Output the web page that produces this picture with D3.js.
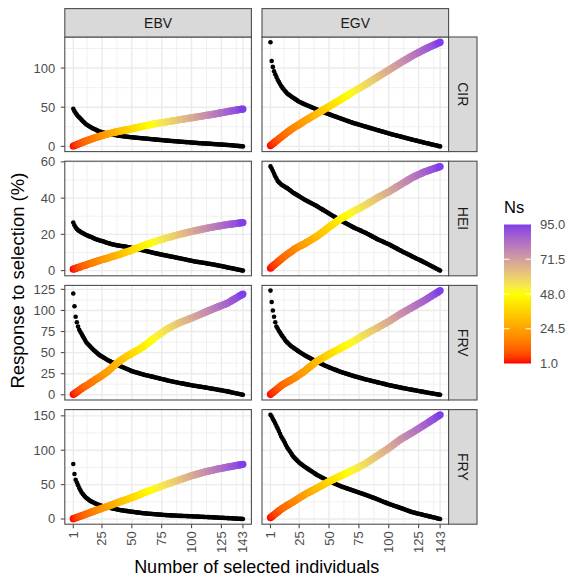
<!DOCTYPE html>
<html>
<head>
<meta charset="utf-8">
<script src="https://cdn.jsdelivr.net/npm/d3@7"></script>
<style>
body { margin: 0; background: #fff; }
text { font-family: "Liberation Sans", Arial, Helvetica, sans-serif; }
</style>
</head>
<body>
<svg id="chart" width="571" height="580"></svg>
<script>
var METHODS = ['EBV', 'EGV'];
var TRAITS = ['CIR', 'HEI', 'FRV', 'FRY'];
var X_TICKS = [1, 25, 50, 75, 100, 125, 143];
var X_MINOR = [12.5, 37.5, 62.5, 87.5, 112.5, 137.5];
var Y_TICKS_CIR = [0, 50, 100];
var Y_TICKS_HEI = [0, 20, 40, 60];
var Y_TICKS_FRV = [0, 25, 50, 75, 100, 125];
var Y_TICKS_FRY = [0, 50, 100, 150];
var NS_TICKS = [1.0, 24.5, 48.0, 71.5, 95.0];

// Ns of each selected set, 1..143
var NS = [1,2,3,4,5,6,7,8,9,10,
  11,12,12,13,14,14,15,16,16,17,
  18,18,19,20,20,21,22,22,23,24,
  24,25,26,26,27,28,28,29,30,30,
  31,32,32,33,34,34,35,36,36,37,
  38,38,39,40,40,41,42,42,43,44,
  44,45,46,46,47,47,48,48,49,50,
  50,51,51,52,53,53,54,54,55,56,
  56,57,57,58,59,59,60,60,61,62,
  62,63,63,64,65,65,66,66,67,68,
  68,69,69,70,71,71,72,72,73,74,
  74,75,75,76,77,77,78,78,79,80,
  80,81,81,82,83,83,84,84,85,86,
  86,87,87,88,89,89,90,90,91,92,
  93,94,95];

// coloured series (increasing) and black series (decreasing)
var CIR_EBV_COL = [0.5,1.1,1.7,2.3,2.9,3.6,4.2,4.8,5.4,6.0,
  6.6,7.1,7.7,8.2,8.8,9.3,9.9,10.4,11.0,11.5,
  12.0,12.4,12.9,13.3,13.8,14.2,14.7,15.1,15.6,16.0,
  16.4,16.7,17.1,17.4,17.8,18.1,18.5,18.8,19.2,19.5,
  19.8,20.1,20.4,20.7,21.0,21.3,21.6,21.9,22.2,22.5,
  22.9,23.2,23.6,23.9,24.3,24.6,25.0,25.3,25.7,26.0,
  26.3,26.6,26.9,27.2,27.5,27.8,28.1,28.4,28.7,29.0,
  29.3,29.5,29.8,30.0,30.3,30.5,30.8,31.0,31.3,31.5,
  31.8,32.0,32.3,32.5,32.8,33.0,33.3,33.5,33.8,34.0,
  34.3,34.5,34.8,35.0,35.3,35.5,35.8,36.0,36.3,36.5,
  36.8,37.0,37.3,37.5,37.8,38.0,38.3,38.5,38.8,39.0,
  39.3,39.5,39.8,40.0,40.3,40.5,40.8,41.0,41.3,41.5,
  41.8,42.1,42.4,42.7,43.0,43.3,43.6,43.9,44.2,44.5,
  44.7,45.0,45.2,45.5,45.7,46.0,46.2,46.5,46.7,47.0,
  47.2,47.5,47.7];
var CIR_EBV_BLK = [48,45,42.5,40.5,38.5,37,35.5,33.8,32,30.7,
  29.3,28,27,26,25,24.2,23.3,22.5,21.8,21.1,
  20.4,19.7,19,18.6,18.1,17.7,17.3,16.8,16.4,16,
  15.7,15.5,15.2,15,14.7,14.5,14.2,14,13.7,13.5,
  13.3,13.1,12.9,12.7,12.5,12.3,12.1,11.9,11.7,11.6,
  11.5,11.3,11.2,11,10.9,10.7,10.6,10.4,10.3,10.1,
  10,9.9,9.7,9.6,9.4,9.3,9.1,9,8.8,8.7,
  8.6,8.4,8.3,8.1,8,7.8,7.7,7.5,7.4,7.3,
  7.2,7.1,6.9,6.8,6.7,6.6,6.5,6.3,6.2,6.1,
  6,5.9,5.8,5.6,5.5,5.4,5.3,5.2,5,4.9,
  4.8,4.7,4.6,4.5,4.3,4.2,4.1,4,3.9,3.8,
  3.7,3.6,3.6,3.5,3.4,3.3,3.2,3,2.9,2.8,
  2.7,2.6,2.5,2.4,2.3,2.2,2.1,2,1.9,1.8,
  1.7,1.5,1.4,1.3,1.1,1,0.8,0.7,0.6,0.4,
  0.3,0.1,0];
var CIR_EGV_COL = [1,2.3,3.5,4.8,6,7.2,8.4,9.6,10.8,12,
  13.2,14.4,15.6,16.8,18,19.1,20.2,21.3,22.4,23.5,
  24.4,25.3,26.2,27.1,28,29,30,31,32,33,
  33.9,34.8,35.7,36.6,37.5,38.4,39.3,40.2,41.1,42,
  42.9,43.8,44.7,45.6,46.5,47.4,48.3,49.2,50.1,51,
  51.9,52.8,53.7,54.6,55.5,56.4,57.3,58.2,59.1,60,
  61,61.9,62.9,63.8,64.8,65.7,66.7,67.6,68.6,69.5,
  70.4,71.3,72.2,73.1,74,74.9,75.8,76.7,77.6,78.5,
  79.5,80.4,81.4,82.3,83.3,84.2,85.2,86.1,87.1,88,
  89,89.9,90.9,91.8,92.8,93.7,94.7,95.6,96.6,97.5,
  98.5,99.4,100.4,101.3,102.3,103.2,104.2,105.1,106.1,107,
  107.9,108.8,109.7,110.6,111.5,112.4,113.3,114.2,115.1,116,
  116.8,117.6,118.4,119.2,120,120.8,121.6,122.4,123.2,124,
  124.7,125.4,126.1,126.8,127.5,128.2,128.8,129.5,130.2,130.9,
  131.6,132.3,133];
var CIR_EGV_BLK = [133,109,101.5,96,92,88.5,85,82.3,79.6,77,
  75,73,71.1,69.3,67.5,66.4,65.3,64.2,63.1,62,
  61,60,59,58,57,56.3,55.6,54.9,54.2,53.5,
  52.9,52.2,51.6,50.9,50.3,49.6,49,48.3,47.7,47,
  46.4,45.8,45.2,44.6,44,43.4,42.8,42.2,41.6,41,
  40.5,39.9,39.4,38.8,38.3,37.7,37.2,36.6,36.1,35.5,
  35,34.4,33.9,33.3,32.8,32.2,31.7,31.1,30.6,30,
  29.6,29.1,28.7,28.2,27.8,27.3,26.9,26.4,26,25.5,
  25.1,24.6,24.2,23.7,23.3,22.8,22.4,21.9,21.5,21,
  20.6,20.1,19.7,19.2,18.8,18.3,17.9,17.4,17,16.5,
  16.1,15.7,15.3,14.9,14.5,14.1,13.7,13.3,12.9,12.5,
  12.1,11.7,11.3,10.9,10.5,10.1,9.7,9.3,8.9,8.5,
  8.1,7.7,7.4,7,6.6,6.3,5.9,5.5,5.1,4.7,
  4.3,4,3.6,3.3,2.9,2.5,2.2,1.8,1.4,1.1,
  0.7,0.4,0];
var HEI_EBV_COL = [0.8,1,1.2,1.5,1.7,1.9,2.1,2.4,2.6,2.8,
  3,3.2,3.5,3.7,3.9,4.1,4.3,4.6,4.8,5,
  5.2,5.4,5.6,5.8,6,6.2,6.4,6.6,6.8,7,
  7.2,7.4,7.6,7.8,8,8.2,8.4,8.6,8.8,9,
  9.2,9.5,9.7,9.9,10.2,10.4,10.6,10.8,11.1,11.3,
  11.6,11.8,12.1,12.3,12.6,12.8,13.1,13.3,13.6,13.8,
  14,14.3,14.5,14.8,15,15.2,15.5,15.7,16,16.2,
  16.4,16.6,16.8,17,17.2,17.4,17.6,17.8,18,18.2,
  18.4,18.6,18.7,18.9,19.1,19.3,19.5,19.6,19.8,20,
  20.2,20.3,20.5,20.6,20.8,21,21.1,21.3,21.4,21.6,
  21.7,21.9,22,22.2,22.3,22.4,22.6,22.7,22.9,23,
  23.1,23.3,23.4,23.5,23.7,23.8,23.9,24,24.2,24.3,
  24.4,24.5,24.6,24.7,24.9,25,25.1,25.2,25.3,25.4,
  25.5,25.6,25.7,25.7,25.8,25.9,26,26.1,26.2,26.2,
  26.3,26.4,26.5];
var HEI_EBV_BLK = [26.5,25,23.8,23,22.3,21.9,21.4,21,20.6,20.3,
  19.9,19.6,19.3,19,18.8,18.5,18.2,17.9,17.6,17.3,
  17.1,16.9,16.7,16.5,16.3,16.1,15.9,15.6,15.4,15.2,
  15,14.8,14.6,14.5,14.3,14.2,14,13.9,13.8,13.7,
  13.6,13.5,13.4,13.3,13.2,13,12.9,12.8,12.7,12.5,
  12.4,12.2,12.1,12,11.8,11.7,11.5,11.4,11.2,11.1,
  10.9,10.8,10.6,10.5,10.3,10.2,10,9.8,9.7,9.5,
  9.4,9.2,9.1,8.9,8.8,8.7,8.5,8.4,8.3,8.1,
  8,7.9,7.7,7.6,7.5,7.3,7.2,7.1,6.9,6.8,
  6.7,6.5,6.4,6.3,6.1,6,5.8,5.7,5.6,5.4,
  5.3,5.1,5,4.9,4.8,4.7,4.6,4.5,4.4,4.3,
  4.2,4.1,3.9,3.8,3.7,3.6,3.5,3.4,3.3,3.1,
  3,2.9,2.7,2.6,2.5,2.3,2.2,2.1,1.9,1.8,
  1.6,1.5,1.4,1.2,1.1,1,0.8,0.7,0.5,0.4,
  0.3,0.1,0];
var HEI_EGV_COL = [1.3,2,2.5,3.1,3.6,4.2,4.8,5.3,5.9,6.4,
  7,7.5,8,8.4,8.9,9.4,9.9,10.3,10.8,11.3,
  11.8,12.3,12.6,13,13.3,13.6,14,14.3,14.6,15,
  15.4,15.8,16.2,16.6,17,17.4,17.8,18.2,18.6,19,
  19.5,20,20.5,21,21.5,22,22.5,23,23.5,24,
  24.5,25,25.4,25.9,26.4,26.9,27.4,27.8,28.3,28.7,
  29.1,29.5,29.8,30.2,30.6,31,31.3,31.7,32.1,32.5,
  32.9,33.2,33.6,33.9,34.3,34.6,35,35.3,35.7,36,
  36.4,36.8,37.2,37.6,38,38.4,38.8,39.2,39.6,40,
  40.4,40.7,41.1,41.4,41.8,42.1,42.5,42.8,43.2,43.5,
  43.9,44.3,44.7,45.1,45.5,45.9,46.3,46.7,47.1,47.5,
  47.9,48.3,48.7,49.1,49.5,49.9,50.3,50.7,51.1,51.5,
  51.8,52.1,52.4,52.7,53,53.3,53.6,53.9,54.2,54.5,
  54.7,54.9,55.2,55.4,55.6,55.8,56.1,56.3,56.5,56.7,
  57,57.2,57.4];
var HEI_EGV_BLK = [57.5,56.3,55,53.5,52,50.8,49.5,48.8,48.2,47.5,
  47.1,46.7,46.3,45.9,45.5,45,44.5,44,43.5,43,
  42.6,42.2,41.8,41.4,41,40.6,40.2,39.8,39.4,39,
  38.7,38.3,38,37.6,37.3,36.9,36.6,36.2,35.9,35.5,
  35.1,34.7,34.3,33.9,33.5,33.1,32.7,32.3,31.9,31.5,
  31.1,30.7,30.3,29.9,29.5,29.1,28.7,28.3,27.9,27.5,
  27.2,26.8,26.5,26.1,25.8,25.4,25.1,24.7,24.4,24,
  23.7,23.4,23.1,22.8,22.5,22.2,21.9,21.6,21.3,21,
  20.7,20.3,20,19.6,19.3,18.9,18.6,18.2,17.9,17.5,
  17.2,16.9,16.6,16.3,16,15.7,15.4,15.1,14.8,14.5,
  14.2,13.8,13.5,13.1,12.8,12.4,12.1,11.7,11.4,11,
  10.7,10.3,10,9.7,9.4,9,8.7,8.4,8,7.7,
  7.4,7.1,6.7,6.4,6.1,5.8,5.5,5.1,4.8,4.5,
  4.2,3.8,3.5,3.1,2.8,2.4,2.1,1.7,1.4,1,
  0.7,0.3,0];
var FRV_EBV_COL = [0.5,1.5,2.5,3.5,4.5,5.5,6.5,7.5,8.4,9.3,
  10.2,11,11.9,12.8,13.8,14.7,15.6,16.6,17.5,18.5,
  19.3,20.2,21,22,23,24,25,26,27,28,
  29.3,30.5,31.8,33.1,34.3,35.6,36.9,38,39.1,40.1,
  41.1,42.1,43.1,44.1,45,45.9,46.7,47.5,48.3,49.1,
  49.9,50.7,51.5,52.3,53.1,54,54.9,55.8,56.7,57.6,
  58.7,59.8,60.9,62,63.1,64.2,65.3,66.3,67.4,68.5,
  69.5,70.5,71.5,72.5,73.5,74.5,75.5,76.5,77.5,78.5,
  79.2,79.9,80.6,81.3,82,82.7,83.4,84.1,84.8,85.5,
  86.1,86.6,87.2,87.7,88.3,88.8,89.4,89.9,90.5,91,
  91.6,92.2,92.8,93.4,94,94.6,95.2,95.8,96.4,97,
  97.6,98.2,98.8,99.4,100,100.6,101.2,101.8,102.4,103,
  103.6,104.1,104.7,105.2,105.8,106.3,106.9,107.4,108,108.5,
  109.3,110.2,111,111.9,112.7,113.6,114.4,115.3,116.1,117,
  117.8,118.7,119.5];
var FRV_EBV_BLK = [120,105,92.5,86,81,77,74.5,72,69.5,67,
  64.5,62,60.5,59,57.5,56,54.5,53,51.8,50.6,
  49.4,48.2,47,46.1,45.3,44.4,43.6,42.7,41.9,41,
  40.3,39.6,38.9,38.2,37.6,36.9,36.2,35.5,34.9,34.2,
  33.6,33,32.4,31.8,31.1,30.5,29.9,29.3,28.6,28,
  27.6,27.2,26.8,26.4,26,25.5,25.1,24.7,24.3,23.9,
  23.5,23.2,22.8,22.5,22.2,21.8,21.5,21.2,20.8,20.5,
  20.2,19.8,19.5,19.1,18.8,18.4,18.1,17.7,17.4,17,
  16.7,16.4,16.1,15.8,15.5,15.2,14.9,14.6,14.3,14,
  13.7,13.5,13.2,12.9,12.6,12.4,12.1,11.8,11.6,11.3,
  11.1,10.8,10.6,10.4,10.2,9.9,9.7,9.5,9.2,9,
  8.8,8.5,8.3,8,7.8,7.5,7.3,7,6.8,6.5,
  6.3,6,5.8,5.5,5.3,5,4.8,4.5,4.3,4,
  3.7,3.4,3.1,2.8,2.5,2.2,1.8,1.5,1.2,0.9,
  0.6,0.3,0];
var FRV_EGV_COL = [0.5,1.7,2.8,4,5.1,6.3,7.4,8.6,9.7,10.9,
  12,12.8,13.6,14.3,15.1,15.9,16.7,17.4,18.2,19,
  19.9,20.9,21.8,22.8,23.7,24.6,25.6,26.5,27.6,28.8,
  29.9,31,32.1,33.3,34.4,35.5,36.6,37.8,38.9,40,
  40.8,41.6,42.4,43.2,44,44.8,45.6,46.4,47.2,48,
  48.8,49.5,50.3,51,51.8,52.5,53.3,54,54.8,55.5,
  56.3,57,57.8,58.5,59.3,60,60.8,61.5,62.3,63,
  63.9,64.7,65.6,66.4,67.3,68.1,69,69.8,70.7,71.5,
  72.3,73,73.8,74.6,75.3,76.1,76.8,77.6,78.3,79,
  79.8,80.6,81.4,82.2,83,83.8,84.6,85.4,86.2,87,
  87.9,88.8,89.7,90.6,91.5,92.4,93.3,94.2,95.1,96,
  96.8,97.6,98.4,99.2,100,100.8,101.6,102.4,103.2,104,
  104.8,105.6,106.4,107.2,108,108.8,109.6,110.4,111.2,112,
  112.9,113.8,114.7,115.5,116.4,117.3,118.2,119,119.9,120.8,
  121.7,122.6,123.5];
var FRV_EGV_BLK = [123.5,110,100,92.5,86,81,78.5,76,73.8,71.5,
  69.5,67.5,65.5,63.5,62.1,60.8,59.4,58,57,56,
  55,54,53,52,51,50.1,49.2,48.3,47.4,46.5,
  45.8,45,44.3,43.5,42.8,42,41.3,40.5,39.8,39,
  38.4,37.7,37.1,36.4,35.8,35.1,34.5,33.8,33.2,32.5,
  32,31.4,30.9,30.3,29.8,29.2,28.7,28.1,27.6,27,
  26.6,26.1,25.7,25.2,24.8,24.3,23.9,23.4,23,22.5,
  22.1,21.7,21.3,20.9,20.5,20.1,19.7,19.3,18.9,18.5,
  18.2,17.8,17.5,17.1,16.8,16.4,16.1,15.7,15.4,15,
  14.7,14.3,14,13.6,13.3,12.9,12.6,12.2,11.9,11.5,
  11.2,10.9,10.6,10.3,10,9.7,9.4,9.1,8.8,8.5,
  8.2,7.9,7.7,7.4,7.1,6.9,6.6,6.3,6.1,5.8,
  5.5,5.3,5,4.8,4.5,4.2,4,3.7,3.5,3.2,
  3,2.7,2.5,2.2,2,1.7,1.5,1.2,1,0.7,
  0.5,0.2,0];
var FRY_EBV_COL = [0.5,1.1,1.7,2.3,2.9,3.6,4.2,4.8,5.4,6,
  6.7,7.3,8,8.6,9.3,9.9,10.6,11.2,11.9,12.5,
  13.1,13.7,14.3,14.9,15.5,16.1,16.7,17.3,17.9,18.5,
  19.2,19.8,20.5,21.1,21.8,22.4,23.1,23.7,24.4,25,
  25.6,26.2,26.8,27.4,28,28.6,29.2,29.8,30.4,31,
  31.7,32.4,33.1,33.8,34.5,35.2,35.9,36.6,37.3,38,
  38.7,39.3,40,40.6,41.3,41.9,42.6,43.2,43.9,44.5,
  45.2,45.8,46.5,47.1,47.8,48.4,49.1,49.7,50.4,51,
  51.6,52.2,52.8,53.4,54,54.6,55.2,55.8,56.4,57,
  57.6,58.2,58.8,59.4,60,60.6,61.2,61.8,62.4,63,
  63.5,64,64.5,65,65.5,66,66.5,67,67.5,68,
  68.4,68.8,69.2,69.6,70,70.4,70.8,71.2,71.6,72,
  72.4,72.7,73.1,73.4,73.8,74.1,74.5,74.8,75.2,75.5,
  75.8,76.1,76.4,76.7,77,77.4,77.7,78,78.3,78.6,
  78.9,79.2,79.5];
var FRY_EBV_BLK = [80,65.5,57,53,49,45,41.7,38.5,36.2,34,
  32.2,30.5,29.2,27.8,26.5,25.6,24.7,23.8,22.9,22,
  21.4,20.8,20.2,19.6,19,18.6,18.2,17.8,17.4,17,
  16.6,16.2,15.8,15.4,15,14.6,14.2,13.8,13.4,13,
  12.8,12.5,12.3,12,11.8,11.5,11.3,11,10.8,10.5,
  10.3,10.1,9.8,9.6,9.4,9.2,9,8.7,8.5,8.3,
  8.2,8,7.9,7.7,7.6,7.4,7.3,7.1,7,6.8,
  6.7,6.5,6.4,6.3,6.2,6,5.9,5.8,5.6,5.5,
  5.4,5.3,5.2,5.1,5,5,4.9,4.8,4.7,4.6,
  4.5,4.5,4.4,4.3,4.3,4.2,4.1,4,4,3.9,
  3.8,3.7,3.7,3.6,3.5,3.4,3.3,3.3,3.2,3.1,
  3,2.9,2.8,2.7,2.7,2.6,2.5,2.4,2.3,2.2,
  2.1,2,1.9,1.8,1.8,1.7,1.6,1.5,1.4,1.3,
  1.2,1.1,1,0.9,0.8,0.7,0.6,0.5,0.4,0.3,
  0.2,0.1,0];
var FRY_EGV_COL = [2,3.4,4.8,6.2,7.6,8.9,10.3,11.7,13.1,14.5,
  15.6,16.6,17.7,18.7,19.8,20.8,21.9,22.9,24,25,
  26.1,27.2,28.3,29.4,30.5,31.6,32.7,33.8,34.9,36,
  36.9,37.8,38.7,39.6,40.5,41.4,42.3,43.2,44.1,45,
  46,46.9,47.9,48.8,49.8,50.7,51.7,52.6,53.6,54.5,
  55.4,56.2,57.1,57.9,58.8,59.6,60.5,61.3,62.2,63,
  63.8,64.6,65.4,66.2,67,67.8,68.6,69.4,70.2,71,
  71.9,72.8,73.7,74.6,75.5,76.4,77.3,78.2,79.1,80,
  81.2,82.3,83.5,84.6,85.8,86.9,88.1,89.2,90.4,91.5,
  92.7,93.8,95,96.1,97.3,98.4,99.6,100.7,101.9,103,
  104.3,105.6,106.9,108.2,109.5,110.8,112.1,113.4,114.7,116,
  117,118,119,120,121,122,123,124,125,126,
  127.1,128.2,129.3,130.4,131.5,132.6,133.7,134.8,135.9,137,
  138.1,139.2,140.3,141.5,142.6,143.7,144.8,145.9,147,148.2,
  149.3,150.4,151.5];
var FRY_EGV_BLK = [151.5,149,145.5,142.5,139,135.3,131.7,128,124,120,
  117,114,110.7,107.3,104,101.4,98.8,96.2,93.6,91,
  89.2,87.4,85.6,83.8,82,80.7,79.4,78.1,76.8,75.5,
  74.4,73.2,72.1,70.9,69.8,68.6,67.5,66.3,65.2,64,
  63.1,62.2,61.3,60.4,59.5,58.6,57.7,56.8,55.9,55,
  54.3,53.5,52.8,52,51.3,50.5,49.8,49,48.3,47.5,
  46.9,46.3,45.7,45.1,44.5,43.9,43.3,42.7,42.1,41.5,
  40.9,40.3,39.7,39.1,38.5,37.9,37.3,36.7,36.1,35.5,
  34.9,34.2,33.6,32.9,32.3,31.6,31,30.3,29.7,29,
  28.3,27.6,26.9,26.2,25.5,24.8,24.1,23.4,22.7,22,
  21.4,20.8,20.2,19.6,19,18.4,17.8,17.2,16.6,16,
  15.4,14.7,14.1,13.4,12.8,12.2,11.5,10.9,10.3,9.7,
  9.3,8.9,8.4,8,7.6,7.2,6.8,6.3,5.9,5.5,
  5.1,4.7,4.2,3.8,3.4,3,2.5,2.1,1.7,1.3,
  0.8,0.4,0];

// lookup tables built from the arrays above
var Y_TICKS = {CIR: Y_TICKS_CIR, HEI: Y_TICKS_HEI, FRV: Y_TICKS_FRV, FRY: Y_TICKS_FRY};
var SERIES = {
  CIR: {EBV: [CIR_EBV_COL, CIR_EBV_BLK], EGV: [CIR_EGV_COL, CIR_EGV_BLK]},
  HEI: {EBV: [HEI_EBV_COL, HEI_EBV_BLK], EGV: [HEI_EGV_COL, HEI_EGV_BLK]},
  FRV: {EBV: [FRV_EBV_COL, FRV_EBV_BLK], EGV: [FRV_EGV_COL, FRV_EGV_BLK]},
  FRY: {EBV: [FRY_EBV_COL, FRY_EBV_BLK], EGV: [FRY_EGV_COL, FRY_EGV_BLK]}
};

var PANEL_W = 186.6;
var PANEL_H = 114.6;
var COL_X = [64.8, 262];
var ROW_Y = [37, 161.2, 285.4, 409.6];
var STRIP = 28.4;
var GRID = '#ebebeb';
var LINE = '#4d4d4d';
var AXIS_TXT = '#4d4d4d';

function translate(x, y){
  return 'translate(' + x + ',' + y + ')';
}

var color = d3.scaleLinear()
  .domain([1, 48, 95])
  .range(['#ff0000', '#ffff00', '#7f3fe8'])
  .interpolate(d3.interpolateLab);

var x = d3.scaleLinear()
  .domain([1 - 142 * 0.05, 143 + 142 * 0.05])
  .range([0, PANEL_W]);

var svg = d3.select('#chart');
svg.append('rect').attr('width', 571).attr('height', 580).attr('fill', '#fff');

function row_scale(trait){
  var vals = [];
  METHODS.forEach(function(m){
    vals = vals.concat(SERIES[trait][m][0], SERIES[trait][m][1]);
  });
  var lo = d3.min(vals), hi = d3.max(vals);
  var pad = (hi - lo) * 0.05;
  return d3.scaleLinear().domain([lo - pad, hi + pad]).range([PANEL_H, 0]);
}

function minor_of(ticks){
  var res = [];
  var step = ticks[1] - ticks[0];
  ticks.forEach(function(t){ res.push(t + step / 2); });
  return res;
}

TRAITS.forEach(function(trait, i){
  var y = row_scale(trait);
  var ymax = y.domain()[1];
  var yminor = minor_of(Y_TICKS[trait]).filter(d => d < ymax);

  METHODS.forEach(function(method, j){
    var g = svg.append('g').attr('transform', translate(COL_X[j], ROW_Y[i]));

    g.append('rect')
      .attr('width', PANEL_W).attr('height', PANEL_H)
      .attr('fill', '#fff');

    // minor grid
    g.selectAll('.xminor').data(X_MINOR).enter().append('line')
      .attr('x1', d => x(d)).attr('x2', d => x(d))
      .attr('y1', 0).attr('y2', PANEL_H)
      .attr('stroke', GRID).attr('stroke-width', 0.7);
    g.selectAll('.yminor').data(yminor).enter().append('line')
      .attr('x1', 0).attr('x2', PANEL_W)
      .attr('y1', d => y(d)).attr('y2', d => y(d))
      .attr('stroke', GRID).attr('stroke-width', 0.7);
    // major grid
    g.selectAll('.xmajor').data(X_TICKS).enter().append('line')
      .attr('x1', d => x(d)).attr('x2', d => x(d))
      .attr('y1', 0).attr('y2', PANEL_H)
      .attr('stroke', GRID).attr('stroke-width', 1.4);
    g.selectAll('.ymajor').data(Y_TICKS[trait]).enter().append('line')
      .attr('x1', 0).attr('x2', PANEL_W)
      .attr('y1', d => y(d)).attr('y2', d => y(d))
      .attr('stroke', GRID).attr('stroke-width', 1.4);

    var col = SERIES[trait][method][0];
    var blk = SERIES[trait][method][1];

    g.selectAll('.blk').data(blk).enter().append('circle')
      .attr('class', 'blk')
      .attr('cx', (d, k) => x(k + 1))
      .attr('cy', d => y(d))
      .attr('r', 2.3)
      .attr('fill', '#000');

    g.selectAll('.col').data(col).enter().append('circle')
      .attr('class', 'col')
      .attr('cx', (d, k) => x(k + 1))
      .attr('cy', d => y(d))
      .attr('r', 3.6)
      .attr('fill', (d, k) => color(NS[k]));

    g.append('rect')
      .attr('width', PANEL_W).attr('height', PANEL_H)
      .attr('fill', 'none').attr('stroke', LINE).attr('stroke-width', 1.1);

    // top strips
    if (i == 0){
      var st = svg.append('g').attr('transform', translate(COL_X[j], ROW_Y[0] - STRIP));
      st.append('rect')
        .attr('width', PANEL_W).attr('height', STRIP)
        .attr('fill', '#d9d9d9').attr('stroke', LINE).attr('stroke-width', 1.1);
      st.append('text')
        .attr('x', PANEL_W / 2).attr('y', STRIP / 2)
        .attr('text-anchor', 'middle').attr('dominant-baseline', 'central')
        .attr('font-size', 14).attr('fill', '#1a1a1a')
        .text(method);
    }

    // y axis on left column
    if (j == 0){
      var ya = svg.append('g').attr('transform', translate(COL_X[0], ROW_Y[i]));
      ya.selectAll('line').data(Y_TICKS[trait]).enter().append('line')
        .attr('x1', -4).attr('x2', 0)
        .attr('y1', d => y(d)).attr('y2', d => y(d))
        .attr('stroke', LINE).attr('stroke-width', 1.1);
      ya.selectAll('text').data(Y_TICKS[trait]).enter().append('text')
        .attr('x', -9.5).attr('y', d => y(d))
        .attr('text-anchor', 'end').attr('dominant-baseline', 'central')
        .attr('font-size', 13).attr('fill', AXIS_TXT)
        .text(d => d);
    }

    // x axis on bottom row
    if (i == TRAITS.length - 1){
      var xa = svg.append('g').attr('transform', translate(COL_X[j], ROW_Y[i] + PANEL_H));
      xa.selectAll('line').data(X_TICKS).enter().append('line')
        .attr('x1', d => x(d)).attr('x2', d => x(d))
        .attr('y1', 0).attr('y2', 4)
        .attr('stroke', LINE).attr('stroke-width', 1.1);
      xa.selectAll('text').data(X_TICKS).enter().append('text')
        .attr('transform', d => translate(x(d), 7) + ' rotate(-90)')
        .attr('text-anchor', 'end').attr('dominant-baseline', 'central')
        .attr('font-size', 13).attr('fill', AXIS_TXT)
        .text(d => d);
    }
  });

  // right strip
  var rs = svg.append('g').attr('transform', translate(COL_X[1] + PANEL_W, ROW_Y[i]));
  rs.append('rect')
    .attr('width', STRIP).attr('height', PANEL_H)
    .attr('fill', '#d9d9d9').attr('stroke', LINE).attr('stroke-width', 1.1);
  rs.append('text')
    .attr('transform', translate(STRIP / 2, PANEL_H / 2) + ' rotate(90)')
    .attr('text-anchor', 'middle').attr('dominant-baseline', 'central')
    .attr('font-size', 14).attr('fill', '#1a1a1a')
    .text(trait);
});

// axis titles
svg.append('text')
  .attr('x', (COL_X[0] + COL_X[1] + PANEL_W) / 2).attr('y', 573)
  .attr('text-anchor', 'middle')
  .attr('font-size', 18).attr('fill', '#000')
  .text('Number of selected individuals');

svg.append('text')
  .attr('transform', translate(24, (ROW_Y[0] + ROW_Y[3] + PANEL_H) / 2) + ' rotate(-90)')
  .attr('text-anchor', 'middle')
  .attr('font-size', 18.5).attr('fill', '#000')
  .text('Response to selection (%)');

// colour bar legend
var BAR_X = 504, BAR_Y = 224.5, BAR_W = 27, BAR_H = 139;
var ns = d3.scaleLinear().domain([1, 95]).range([BAR_H, 0]);

var grad = svg.append('defs').append('linearGradient')
  .attr('id', 'ns-grad')
  .attr('x1', 0).attr('y1', 1).attr('x2', 0).attr('y2', 0);
d3.range(0, 21).forEach(function(k){
  grad.append('stop')
    .attr('offset', (k * 5) + '%')
    .attr('stop-color', color(1 + 94 * k / 20));
});

var lg = svg.append('g').attr('transform', translate(BAR_X, BAR_Y));
lg.append('text')
  .attr('x', 0).attr('y', -11.5)
  .attr('font-size', 16.5).attr('fill', '#000')
  .text('Ns');
lg.append('rect')
  .attr('width', BAR_W).attr('height', BAR_H)
  .attr('fill', 'url(#ns-grad)');
lg.selectAll('.tl').data(NS_TICKS.slice(1, 4)).enter().append('line')
  .attr('x1', 0).attr('x2', BAR_W / 5)
  .attr('y1', d => ns(d)).attr('y2', d => ns(d))
  .attr('stroke', '#fff').attr('stroke-width', 1);
lg.selectAll('.tr').data(NS_TICKS.slice(1, 4)).enter().append('line')
  .attr('x1', BAR_W * 4 / 5).attr('x2', BAR_W)
  .attr('y1', d => ns(d)).attr('y2', d => ns(d))
  .attr('stroke', '#fff').attr('stroke-width', 1);
lg.selectAll('.lbl').data(NS_TICKS).enter().append('text')
  .attr('x', BAR_W + 9).attr('y', d => ns(d))
  .attr('dominant-baseline', 'central')
  .attr('font-size', 13).attr('fill', AXIS_TXT)
  .text(d => d.toFixed(1));
</script>
</body>
</html>
